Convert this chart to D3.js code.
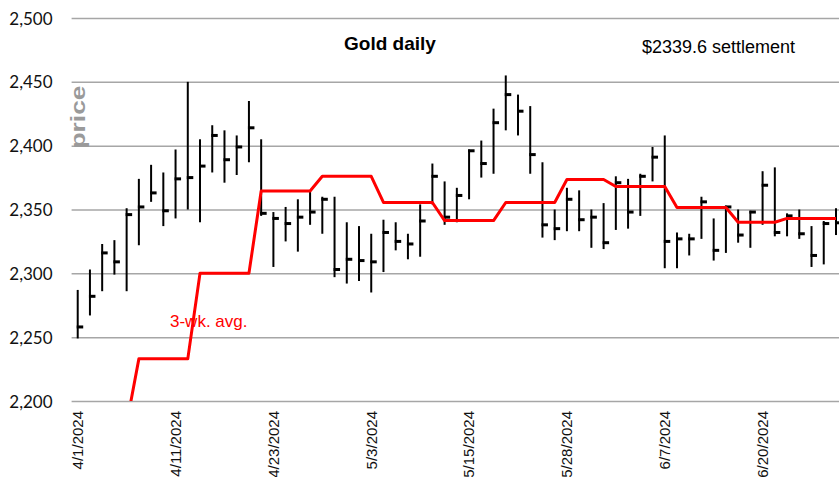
<!DOCTYPE html>
<html>
<head>
<meta charset="utf-8">
<script src="https://cdn.jsdelivr.net/npm/d3@7"></script>
<style>
  body { margin: 0; background: #fff; }
  svg { display: block; }
  .grid line { stroke: #a6a6a6; stroke-width: 1.5; }
  .axis-y text { font-family: Lato, "Open Sans", sans-serif; font-size: 17px; fill: #111; }
  .axis-x text { font-family: "Liberation Sans", Arial, sans-serif; font-size: 15px; fill: #111; }
</style>
</head>
<body>
<div id="chart"></div>
<script>
// Trading days shown on the chart (5/27 and 6/19 were holidays)
const dates = [
  "4/1/2024", "4/2/2024", "4/3/2024", "4/4/2024", "4/5/2024",
  "4/8/2024", "4/9/2024", "4/10/2024", "4/11/2024", "4/12/2024",
  "4/15/2024", "4/16/2024", "4/17/2024", "4/18/2024", "4/19/2024",
  "4/22/2024", "4/23/2024", "4/24/2024", "4/25/2024", "4/26/2024",
  "4/29/2024", "4/30/2024", "5/1/2024", "5/2/2024", "5/3/2024",
  "5/6/2024", "5/7/2024", "5/8/2024", "5/9/2024", "5/10/2024",
  "5/13/2024", "5/14/2024", "5/15/2024", "5/16/2024", "5/17/2024",
  "5/20/2024", "5/21/2024", "5/22/2024", "5/23/2024", "5/24/2024",
  "5/28/2024", "5/29/2024", "5/30/2024", "5/31/2024",
  "6/3/2024", "6/4/2024", "6/5/2024", "6/6/2024", "6/7/2024",
  "6/10/2024", "6/11/2024", "6/12/2024", "6/13/2024", "6/14/2024",
  "6/17/2024", "6/18/2024", "6/20/2024", "6/21/2024",
  "6/24/2024", "6/25/2024", "6/26/2024", "6/27/2024", "6/28/2024"
];

const highs = [
  2287, 2303, 2323, 2326, 2351, 2374, 2385, 2379, 2397, 2450,
  2405, 2416, 2412, 2408, 2435, 2405, 2348, 2352, 2358, 2364,
  2360, 2360, 2340, 2337, 2331, 2342, 2340, 2331, 2354, 2386,
  2372, 2367, 2397, 2404, 2429, 2455, 2440, 2431, 2387, 2350,
  2367, 2365, 2350, 2355, 2376, 2374, 2378, 2399, 2408, 2332,
  2331, 2360, 2343, 2353, 2350, 2349, 2380, 2383, 2347, 2350,
  2337, 2341, 2351
];

const lows = [
  2249, 2267, 2286, 2299, 2286, 2322, 2356, 2337, 2343, 2350,
  2340, 2379, 2371, 2377, 2387, 2345, 2305, 2325, 2317, 2338,
  2331, 2297, 2292, 2294, 2285, 2301, 2318, 2311, 2313, 2354,
  2338, 2340, 2358, 2375, 2378, 2412, 2408, 2378, 2328, 2326,
  2333, 2333, 2320, 2319, 2334, 2335, 2345, 2372, 2304, 2304,
  2314, 2327, 2310, 2316, 2324, 2320, 2338, 2329, 2329, 2327,
  2305, 2307, 2330
];

const closes = [
  2258, 2282, 2316, 2309, 2346, 2352, 2363, 2349, 2374, 2375,
  2384, 2408, 2389, 2399, 2414, 2347, 2343, 2339, 2344, 2348,
  2358, 2303, 2311, 2310, 2309, 2332, 2325, 2323, 2341, 2376,
  2344, 2361, 2396, 2386, 2418, 2440, 2427, 2393, 2338, 2335,
  2358, 2342, 2344, 2324, 2371, 2348, 2376, 2391, 2325, 2327,
  2327, 2356, 2318, 2352, 2330, 2348, 2369, 2332, 2345, 2331,
  2314, 2339, 2339.6
];

// 3-week average, one value per trading day (steps weekly)
const avg3wk = [
  2182, 2182, 2182, 2182, 2182,
  2233, 2233, 2233, 2233, 2233,
  2300, 2300, 2300, 2300, 2300,
  2364.5, 2364.5, 2364.5, 2364.5, 2364.5,
  2376, 2376, 2376, 2376, 2376,
  2355.5, 2355.5, 2355.5, 2355.5, 2355.5,
  2341.3, 2341.3, 2341.3, 2341.3, 2341.3,
  2355.5, 2355.5, 2355.5, 2355.5, 2355.5,
  2373.5, 2373.5, 2373.5, 2373.5,
  2368, 2368, 2368, 2368, 2368,
  2351.5, 2351.5, 2351.5, 2351.5, 2351.5,
  2340, 2340, 2340, 2340,
  2343, 2343, 2343, 2343, 2343
];

const xTickLabels = ["4/1/2024", "4/11/2024", "4/23/2024", "5/3/2024", "5/15/2024", "5/28/2024", "6/7/2024", "6/20/2024"];
const yTicks = [2200, 2250, 2300, 2350, 2400, 2450, 2500];

const width = 839, height = 477;
const plotLeft = 71.6, step = 12.23, plotTop = 18, plotBottom = 401;

const data = dates.map((d, i) => ({ date: d, high: highs[i], low: lows[i], close: closes[i], avg: avg3wk[i] }));

const svg = d3.select("#chart").append("svg").attr("width", width).attr("height", height);

const x = d3.scaleBand().domain(dates).range([plotLeft, plotLeft + step * dates.length]).padding(0);
const cx = (d) => x(d) + x.bandwidth() / 2;
const y = d3.scaleLinear().domain([2200, 2500]).range([plotBottom, plotTop]);

// Horizontal gridlines plus y tick labels
const yAxisG = svg.append("g")
  .attr("class", "grid axis-y")
  .attr("transform", `translate(${plotLeft},0)`)
  .call(d3.axisLeft(y).tickValues(yTicks).tickSize(-(width - plotLeft)).tickPadding(19).tickFormat(d3.format(",")));
yAxisG.select(".domain").remove();
yAxisG.selectAll("text").attr("dy", "0.36em");

// Rotated date labels every 8 trading days
const xAxisG = svg.append("g")
  .attr("class", "axis-x")
  .attr("transform", `translate(0,${plotBottom})`)
  .call(d3.axisBottom(x).tickValues(xTickLabels).tickSize(0));
xAxisG.select(".domain").remove();
xAxisG.selectAll("text")
  .attr("transform", "rotate(-90)")
  .attr("text-anchor", "end")
  .attr("x", -10)
  .attr("y", 0)
  .attr("dy", "0.36em");

// High-low bars with close ticks
const bars = svg.append("g");
bars.selectAll("line.hl").data(data).join("line")
  .attr("class", "hl")
  .attr("x1", (d) => cx(d.date)).attr("x2", (d) => cx(d.date))
  .attr("y1", (d) => y(d.high)).attr("y2", (d) => y(d.low))
  .attr("stroke", "#000").attr("stroke-width", 2);
bars.selectAll("rect.close").data(data).join("rect")
  .attr("class", "close")
  .attr("x", (d) => cx(d.date) - 1)
  .attr("y", (d) => y(d.close) - 1.5)
  .attr("width", 6.5).attr("height", 3)
  .attr("fill", "#000");

// 3-week average, clipped to the plot area
svg.append("clipPath").attr("id", "plot-clip")
  .append("rect").attr("x", plotLeft).attr("y", plotTop).attr("width", width - plotLeft).attr("height", plotBottom - plotTop);

const line = d3.line().x((d) => cx(d.date)).y((d) => y(d.avg));
svg.append("path")
  .datum(data)
  .attr("clip-path", "url(#plot-clip)")
  .attr("d", line)
  .attr("fill", "none")
  .attr("stroke", "#ff0000")
  .attr("stroke-width", 3)
  .attr("stroke-linejoin", "round");

// Titles and annotations
svg.append("text")
  .attr("x", 390).attr("y", 50)
  .attr("text-anchor", "middle")
  .style("font-family", "'Liberation Sans', Arial, sans-serif")
  .style("font-size", "19px").style("font-weight", "bold")
  .text("Gold daily");

svg.append("text")
  .attr("x", 642).attr("y", 53)
  .style("font-family", "'Liberation Sans', Arial, sans-serif")
  .style("font-size", "18px")
  .text("$2339.6 settlement");

svg.append("text")
  .attr("x", 170).attr("y", 327)
  .attr("fill", "#ff0000")
  .style("font-family", "'Liberation Sans', Arial, sans-serif")
  .style("font-size", "17px")
  .text("3-wk. avg.");

svg.append("text")
  .attr("transform", "translate(85,117) rotate(-90)")
  .attr("text-anchor", "middle")
  .attr("fill", "#9a9a9a")
  .attr("textLength", 63).attr("lengthAdjust", "spacingAndGlyphs")
  .style("font-family", "'Liberation Sans', Arial, sans-serif")
  .style("font-size", "21px").style("font-weight", "bold")
  .text("price");
</script>
</body>
</html>
